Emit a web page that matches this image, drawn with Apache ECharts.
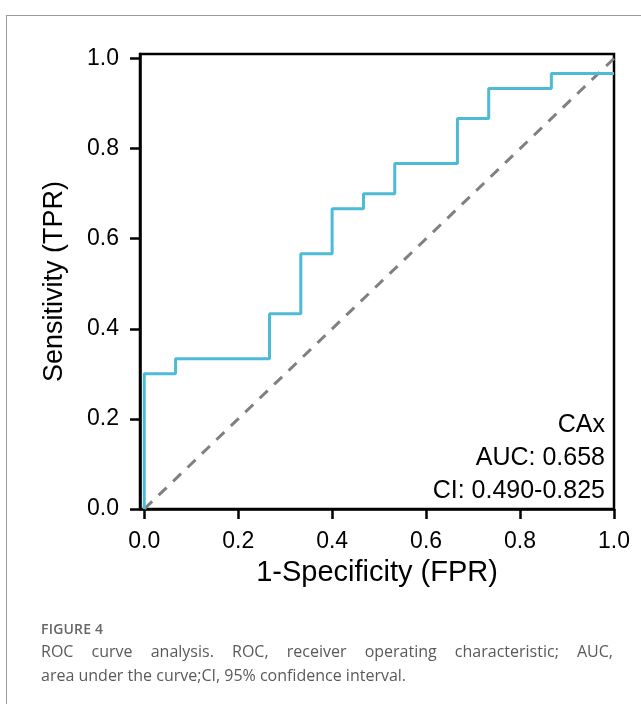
<!DOCTYPE html>
<html>
<head>
<meta charset="utf-8">
<script src="https://cdn.jsdelivr.net/npm/echarts@6/dist/echarts.min.js"></script>
<style>
  html, body { margin: 0; padding: 0; background: #fff; }
  #wrap { position: relative; width: 641px; height: 704px; overflow: hidden; }
  #frame { position: absolute; left: 6px; top: 15px; width: 700px; height: 760px; border: 1px solid #9a9a9a; }
  #chart { position: absolute; left: 0; top: 0; width: 641px; height: 704px; }
  #cap { position: absolute; left: 41px; top: 619px; width: 572px; font-family: "Open Sans", sans-serif; color: #5a5a5a; }
  #cap .fig { font-size: 14px; font-weight: 600; color: #666; letter-spacing: 0.2px; }
  #cap .l1 { font-size: 16px; line-height: 24px; text-align: justify; text-align-last: justify; margin-top: 1px; }
  #cap .l2 { font-size: 16px; line-height: 24px; }
</style>
</head>
<body>
<div id="wrap">
  <div id="frame"></div>
  <div id="chart"></div>
  <div id="cap">
    <div class="fig">FIGURE 4</div>
    <div class="l1">ROC curve analysis. ROC, receiver operating characteristic; AUC,</div>
    <div class="l2">area under the curve;CI, 95% confidence interval.</div>
  </div>
</div>
<script>
// ROC 数据
var fpr = [0, 0, 0.0667, 0.0667, 0.2667, 0.2667, 0.3333, 0.3333, 0.4, 0.4, 0.4667, 0.4667, 0.5333, 0.5333, 0.6667, 0.6667, 0.7333, 0.7333, 0.8667, 0.8667, 1.0];
var tpr = [0, 0.3, 0.3, 0.3333, 0.3333, 0.4333, 0.4333, 0.5667, 0.5667, 0.6667, 0.6667, 0.7, 0.7, 0.7667, 0.7667, 0.8667, 0.8667, 0.9333, 0.9333, 0.9667, 0.9667];
var diagX = [0, 1];
var diagY = [0, 1];
var ticks = [0, 0.2, 0.4, 0.6, 0.8, 1.0];
var legendLines = ['CAx', 'AUC: 0.658', 'CI: 0.490-0.825'];

var chart = echarts.init(document.getElementById('chart'));

var font = 'Liberation Sans, Arial, sans-serif';

var option = {
  animation: false,
  grid: {
    left: 140, right: 27, top: 54, bottom: 195,
    show: true, borderColor: '#000', borderWidth: 2.5, backgroundColor: 'transparent'
  },
  xAxis: {
    type: 'value', min: -0.009, max: 1.0,
    name: '1-Specificity (FPR)', nameLocation: 'middle', nameGap: 49, nameMoveOverlap: false,
    nameTextStyle: { fontSize: 29, color: '#000', fontFamily: font },
    axisLine: { show: true, onZero: false, lineStyle: { color: '#000', width: 2.5 } },
    axisTick: { show: true, length: 10, lineStyle: { color: '#000', width: 2.5 }, customValues: ticks },
    axisLabel: { fontSize: 23, color: '#000', fontFamily: font, margin: 21, customValues: ticks,
      formatter: function (v) { return v.toFixed(1); } },
    splitLine: { show: false }
  },
  yAxis: {
    type: 'value', min: 0, max: 1.01,
    name: 'Sensitivity (TPR)', nameLocation: 'middle', nameGap: 72, nameMoveOverlap: false,
    nameTextStyle: { fontSize: 27, color: '#000', fontFamily: font },
    axisLine: { show: true, onZero: false, lineStyle: { color: '#000', width: 2.5 } },
    axisTick: { show: true, length: 10, lineStyle: { color: '#000', width: 2.5 }, customValues: ticks },
    axisLabel: { fontSize: 23, color: '#000', fontFamily: font, margin: 21, customValues: ticks,
      formatter: function (v) { return v.toFixed(1); } },
    splitLine: { show: false }
  },
  series: [
    {
      name: 'diag', type: 'line', symbol: 'none', silent: true,
      data: diagX.map(function (x, i) { return [x, diagY[i]]; }),
      lineStyle: { color: '#808080', width: 3, type: [11, 9] },
      z: 1
    },
    {
      name: 'CAx', type: 'line', symbol: 'none',
      data: fpr.map(function (x, i) { return [x, tpr[i]]; }),
      lineStyle: { color: '#4DBBD5', width: 3 },
      z: 2
    }
  ],
  graphic: legendLines.map(function (t, i) {
    return {
      type: 'text', right: 36, top: 413 + i * 33,
      style: { text: t, font: '25px ' + font, fill: '#000', textAlign: 'right' }
    };
  })
};

chart.setOption(option);
</script>
</body>
</html>
